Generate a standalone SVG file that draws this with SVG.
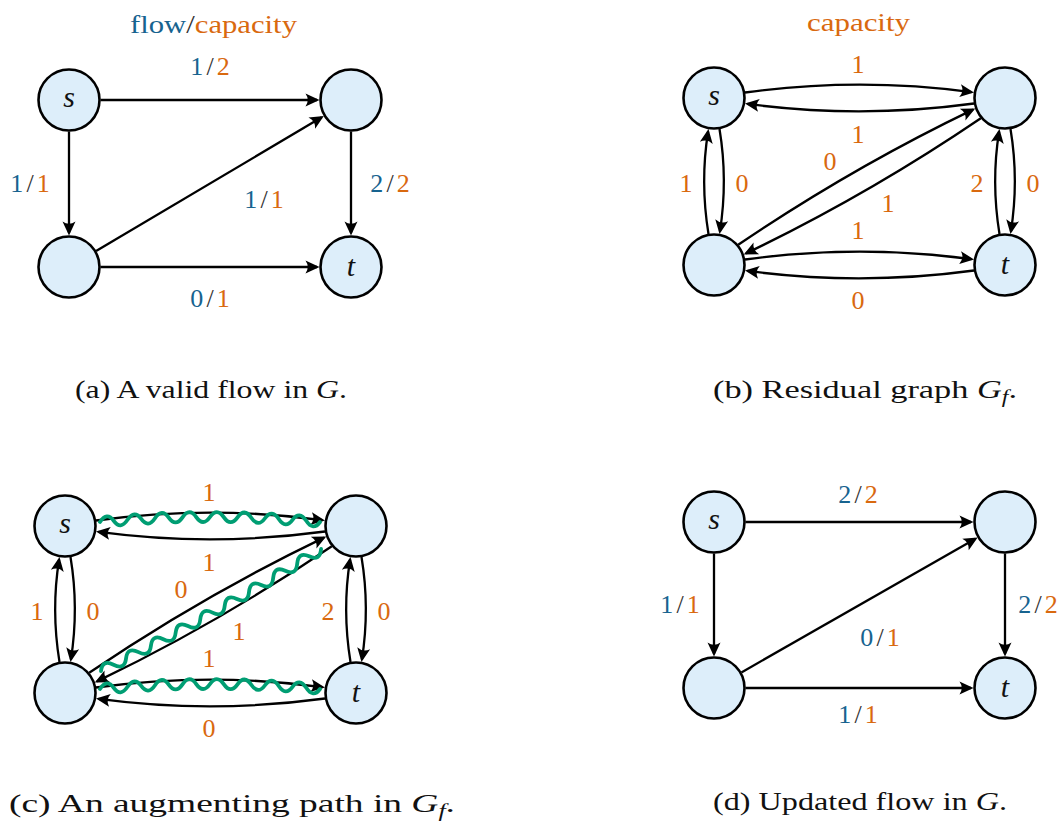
<svg xmlns="http://www.w3.org/2000/svg" width="1062" height="826" viewBox="0 0 1062 826">
<style>
.nd{fill:#ddeefa;stroke:#000;stroke-width:2.6}
.ea{fill:none;stroke:#000;stroke-width:2.3;marker-end:url(#ah)}
.wv{fill:none;stroke:#009e73;stroke-width:3.8;stroke-linecap:round;stroke-linejoin:round}
</style>
<defs>
<marker id="ah" viewBox="-15 -8 18 16" markerWidth="18" markerHeight="16" refX="-2.5" refY="0" orient="auto" markerUnits="userSpaceOnUse">
<path d="M0,0 L-14,-6.5 Q-9.5,0 -14,6.5 Z" fill="#000"/>
</marker>
</defs>

<!-- Panel (a) -->
<g id="panel-a">
<text font-family="Liberation Serif" font-size="26" x="130" y="33" textLength="167" lengthAdjust="spacingAndGlyphs"><tspan fill="#17638f">flow</tspan><tspan fill="#333333">/</tspan><tspan fill="#d9690f">capacity</tspan></text>
<g id="a-edges">
<path class="ea" d="M100.5,100 L317,100"/>
<path class="ea" d="M69,131.5 L69,233"/>
<path class="ea" d="M351,131.5 L351,233"/>
<path class="ea" d="M100.5,267 L317,267"/>
<path class="ea" d="M96.1,251 L321.7,117.3"/>
</g>
<g id="a-s"><circle class="nd" cx="69" cy="100" r="30.5"/><text fill="#111111" font-family="Liberation Serif" font-style="italic" font-size="30" text-anchor="middle" x="69" y="107">s</text></g>
<g id="a-u"><circle class="nd" cx="351" cy="100" r="30.5"/></g>
<g id="a-v"><circle class="nd" cx="69" cy="267" r="30.5"/></g>
<g id="a-t"><circle class="nd" cx="351" cy="267" r="30.5"/><text fill="#111111" font-family="Liberation Serif" font-style="italic" font-size="30" text-anchor="middle" x="351" y="276">t</text></g>
<g id="a-labels">
<text font-family="Liberation Serif" font-size="26" text-anchor="middle" y="75"><tspan x="196.7" fill="#17638f">1</tspan><tspan x="210" fill="#333333">/</tspan><tspan x="223.3" fill="#d9690f">2</tspan></text>
<text font-family="Liberation Serif" font-size="26" text-anchor="middle" y="192"><tspan x="16.7" fill="#17638f">1</tspan><tspan x="30" fill="#333333">/</tspan><tspan x="43.3" fill="#d9690f">1</tspan></text>
<text font-family="Liberation Serif" font-size="26" text-anchor="middle" y="208"><tspan x="250.7" fill="#17638f">1</tspan><tspan x="264" fill="#333333">/</tspan><tspan x="277.3" fill="#d9690f">1</tspan></text>
<text font-family="Liberation Serif" font-size="26" text-anchor="middle" y="192"><tspan x="376.7" fill="#17638f">2</tspan><tspan x="390" fill="#333333">/</tspan><tspan x="403.3" fill="#d9690f">2</tspan></text>
<text font-family="Liberation Serif" font-size="26" text-anchor="middle" y="307"><tspan x="196.7" fill="#17638f">0</tspan><tspan x="210" fill="#333333">/</tspan><tspan x="223.3" fill="#d9690f">1</tspan></text>
</g>
<text fill="#111111" font-family="Liberation Serif" font-size="26" x="75" y="398" textLength="272" lengthAdjust="spacingAndGlyphs">(a) A valid flow in <tspan font-style="italic">G</tspan>.</text>
</g>

<!-- Panel (b) -->
<g id="panel-b">
<text fill="#d9690f" font-family="Liberation Serif" font-size="26" x="807" y="31" textLength="103" lengthAdjust="spacingAndGlyphs">capacity</text>
<g id="b-edges">
<path class="ea" d="M745,92.5 Q858.5,77 971.5,92.1"/>
<path class="ea" d="M974,103.5 Q860,119 747.5,103.9"/>
<path class="ea" d="M719.5,129 Q728,180 719.9,231.5"/>
<path class="ea" d="M708.5,234 Q700,182 708.1,131.5"/>
<path class="ea" d="M1010.5,129 Q1019,180 1010.9,231.5"/>
<path class="ea" d="M999.5,234 Q991,182 999.1,131.5"/>
<path class="ea" d="M745,259.5 Q858.5,244 971.5,259.1"/>
<path class="ea" d="M974,270.5 Q860,286 747.5,270.9"/>
<path class="ea" d="M738.2,244.8 Q850.6,168.5 973,109.6"/>
<path class="ea" d="M980.8,118.2 Q868.4,194.5 746,253.4"/>
</g>
<g id="b-s"><circle class="nd" cx="714" cy="98" r="30.5"/><text fill="#111111" font-family="Liberation Serif" font-style="italic" font-size="30" text-anchor="middle" x="714" y="105">s</text></g>
<g id="b-u"><circle class="nd" cx="1005" cy="98" r="30.5"/></g>
<g id="b-v"><circle class="nd" cx="714" cy="265" r="30.5"/></g>
<g id="b-t"><circle class="nd" cx="1005" cy="265" r="30.5"/><text fill="#111111" font-family="Liberation Serif" font-style="italic" font-size="30" text-anchor="middle" x="1005" y="274">t</text></g>
<g id="b-labels">
<text fill="#d9690f" font-family="Liberation Serif" font-size="26" text-anchor="middle" x="858" y="73">1</text>
<text fill="#d9690f" font-family="Liberation Serif" font-size="26" text-anchor="middle" x="858" y="143">1</text>
<text fill="#d9690f" font-family="Liberation Serif" font-size="26" text-anchor="middle" x="830" y="170">0</text>
<text fill="#d9690f" font-family="Liberation Serif" font-size="26" text-anchor="middle" x="888" y="212">1</text>
<text fill="#d9690f" font-family="Liberation Serif" font-size="26" text-anchor="middle" x="858" y="239">1</text>
<text fill="#d9690f" font-family="Liberation Serif" font-size="26" text-anchor="middle" x="858" y="309">0</text>
<text fill="#d9690f" font-family="Liberation Serif" font-size="26" text-anchor="middle" x="686" y="192">1</text>
<text fill="#d9690f" font-family="Liberation Serif" font-size="26" text-anchor="middle" x="742" y="192">0</text>
<text fill="#d9690f" font-family="Liberation Serif" font-size="26" text-anchor="middle" x="977" y="192">2</text>
<text fill="#d9690f" font-family="Liberation Serif" font-size="26" text-anchor="middle" x="1033" y="192">0</text>
</g>
<text fill="#111111" font-family="Liberation Serif" font-size="26" x="713" y="398" textLength="304" lengthAdjust="spacingAndGlyphs">(b) Residual graph <tspan font-style="italic">G</tspan><tspan font-style="italic" font-size="18" dy="5">f</tspan><tspan dy="-5">.</tspan></text>
</g>

<!-- Panel (c) -->
<g id="panel-c">
<g transform="translate(-649,428)">
<g id="c-edges">
<path class="ea" d="M745,92.5 Q858.5,77 971.5,92.1"/>
<path class="ea" d="M974,103.5 Q860,119 747.5,103.9"/>
<path class="ea" d="M719.5,129 Q728,180 719.9,231.5"/>
<path class="ea" d="M708.5,234 Q700,182 708.1,131.5"/>
<path class="ea" d="M1010.5,129 Q1019,180 1010.9,231.5"/>
<path class="ea" d="M999.5,234 Q991,182 999.1,131.5"/>
<path class="ea" d="M745,259.5 Q858.5,244 971.5,259.1"/>
<path class="ea" d="M974,270.5 Q860,286 747.5,270.9"/>
<path class="ea" d="M738.2,244.8 Q850.6,168.5 973,109.6"/>
<path class="ea" d="M980.8,118.2 Q868.4,194.5 746,253.4"/>
</g>
<g id="c-s"><circle class="nd" cx="714" cy="98" r="30.5"/><text fill="#111111" font-family="Liberation Serif" font-style="italic" font-size="30" text-anchor="middle" x="714" y="105">s</text></g>
<g id="c-u"><circle class="nd" cx="1005" cy="98" r="30.5"/></g>
<g id="c-v"><circle class="nd" cx="714" cy="265" r="30.5"/></g>
<g id="c-t"><circle class="nd" cx="1005" cy="265" r="30.5"/><text fill="#111111" font-family="Liberation Serif" font-style="italic" font-size="30" text-anchor="middle" x="1005" y="274">t</text></g>
<g id="c-labels">
<text fill="#d9690f" font-family="Liberation Serif" font-size="26" text-anchor="middle" x="858" y="73">1</text>
<text fill="#d9690f" font-family="Liberation Serif" font-size="26" text-anchor="middle" x="858" y="143">1</text>
<text fill="#d9690f" font-family="Liberation Serif" font-size="26" text-anchor="middle" x="830" y="170">0</text>
<text fill="#d9690f" font-family="Liberation Serif" font-size="26" text-anchor="middle" x="888" y="212">1</text>
<text fill="#d9690f" font-family="Liberation Serif" font-size="26" text-anchor="middle" x="858" y="239">1</text>
<text fill="#d9690f" font-family="Liberation Serif" font-size="26" text-anchor="middle" x="858" y="309">0</text>
<text fill="#d9690f" font-family="Liberation Serif" font-size="26" text-anchor="middle" x="686" y="192">1</text>
<text fill="#d9690f" font-family="Liberation Serif" font-size="26" text-anchor="middle" x="742" y="192">0</text>
<text fill="#d9690f" font-family="Liberation Serif" font-size="26" text-anchor="middle" x="977" y="192">2</text>
<text fill="#d9690f" font-family="Liberation Serif" font-size="26" text-anchor="middle" x="1033" y="192">0</text>
</g>
</g>
<g id="c-path">
<path class="wv" d="M100,522 Q106.9,511.4 113.75,520.83 T127.5,519.81 T141.25,518.95 T155,518.25 T168.75,517.7 T182.5,517.31 T196.25,517.08 T210,517 T223.75,517.08 T237.5,517.31 T251.25,517.7 T265,518.25 T278.75,518.95 T292.5,519.81 T306.25,520.83 T320,522"/>
<path class="wv" transform="translate(101,671) rotate(-29)" d="M0,0 Q6.99,-9.7 13.98,0.63 T27.96,1.19 T41.94,1.67 T55.92,2.07 T69.9,2.41 T83.88,2.67 T97.86,2.85 T111.84,2.96 T125.82,3 T139.8,2.96 T153.78,2.85 T167.76,2.67 T181.74,2.41 T195.72,2.07 T209.7,1.67 T223.68,1.19 T237.66,0.63 T251.64,0"/>
<path class="wv" d="M100,689 Q106.9,678.4 113.75,687.83 T127.5,686.81 T141.25,685.95 T155,685.25 T168.75,684.7 T182.5,684.31 T196.25,684.08 T210,684 T223.75,684.08 T237.5,684.31 T251.25,684.7 T265,685.25 T278.75,685.95 T292.5,686.81 T306.25,687.83 T320,689"/>
</g>
<text fill="#111111" font-family="Liberation Serif" font-size="26" x="9" y="812" textLength="446" lengthAdjust="spacingAndGlyphs">(c) An augmenting path in <tspan font-style="italic">G</tspan><tspan font-style="italic" font-size="18" dy="5">f</tspan><tspan dy="-5">.</tspan></text>
</g>

<!-- Panel (d) -->
<g id="panel-d">
<g id="d-edges">
<path class="ea" d="M745.5,522 L971,522"/>
<path class="ea" d="M714,553.5 L714,654"/>
<path class="ea" d="M1005,553.5 L1005,654"/>
<path class="ea" d="M745.5,688 L971,688"/>
<path class="ea" d="M741.4,672.4 L975.5,538.8"/>
</g>
<g id="d-s"><circle class="nd" cx="714" cy="522" r="30.5"/><text fill="#111111" font-family="Liberation Serif" font-style="italic" font-size="30" text-anchor="middle" x="714" y="529">s</text></g>
<g id="d-u"><circle class="nd" cx="1005" cy="522" r="30.5"/></g>
<g id="d-v"><circle class="nd" cx="714" cy="688" r="30.5"/></g>
<g id="d-t"><circle class="nd" cx="1005" cy="688" r="30.5"/><text fill="#111111" font-family="Liberation Serif" font-style="italic" font-size="30" text-anchor="middle" x="1005" y="697">t</text></g>
<g id="d-labels">
<text font-family="Liberation Serif" font-size="26" text-anchor="middle" y="503"><tspan x="844.7" fill="#17638f">2</tspan><tspan x="858" fill="#333333">/</tspan><tspan x="871.3" fill="#d9690f">2</tspan></text>
<text font-family="Liberation Serif" font-size="26" text-anchor="middle" y="613"><tspan x="666.7" fill="#17638f">1</tspan><tspan x="680" fill="#333333">/</tspan><tspan x="693.3" fill="#d9690f">1</tspan></text>
<text font-family="Liberation Serif" font-size="26" text-anchor="middle" y="646"><tspan x="866.7" fill="#17638f">0</tspan><tspan x="880" fill="#333333">/</tspan><tspan x="893.3" fill="#d9690f">1</tspan></text>
<text font-family="Liberation Serif" font-size="26" text-anchor="middle" y="613"><tspan x="1024.7" fill="#17638f">2</tspan><tspan x="1038" fill="#333333">/</tspan><tspan x="1051.3" fill="#d9690f">2</tspan></text>
<text font-family="Liberation Serif" font-size="26" text-anchor="middle" y="723"><tspan x="844.7" fill="#17638f">1</tspan><tspan x="858" fill="#333333">/</tspan><tspan x="871.3" fill="#d9690f">1</tspan></text>
</g>
<text fill="#111111" font-family="Liberation Serif" font-size="26" x="713" y="810" textLength="294" lengthAdjust="spacingAndGlyphs">(d) Updated flow in <tspan font-style="italic">G</tspan>.</text>
</g>
</svg>
